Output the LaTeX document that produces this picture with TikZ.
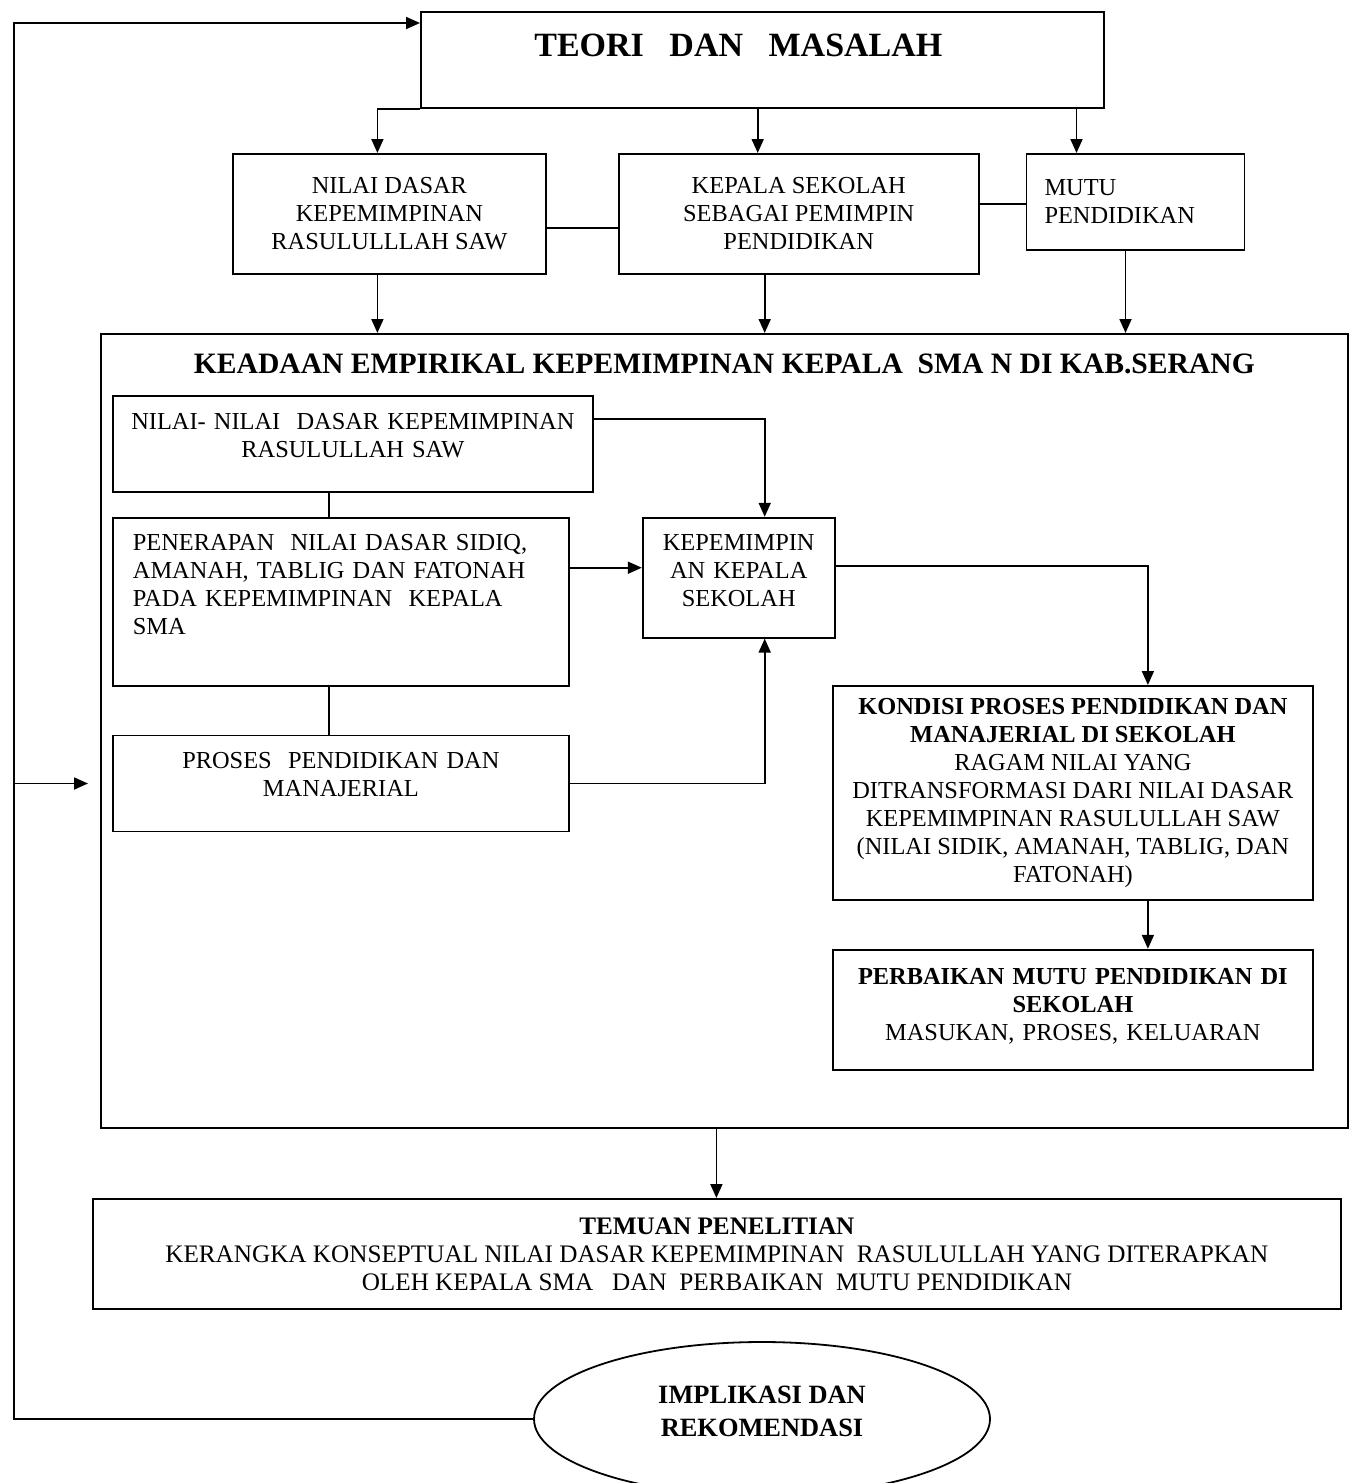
\documentclass[tikz,border=0pt]{standalone}
\usepackage{fontspec}
\setmainfont{Liberation Serif}
\usetikzlibrary{arrows.meta, positioning, shapes.geometric}

\begin{document}
\begin{tikzpicture}[x=0.5pt, y=-0.5pt,
            kotak/.style={rectangle, draw=black, line width=0.9pt, inner sep=2pt, font=\fontsize{12.2}{14}\selectfont},
            judul/.style={font=\fontsize{14.8}{17}\selectfont\bfseries},
            panah/.style={-{Triangle[length=7pt, width=6pt]}, line width=0.9pt},
            garis/.style={line width=0.9pt},
            ]
            \useasboundingbox (0,0) rectangle (1353,1483);

            %Nodes
            \node[kotak, anchor=north west, minimum width=341.5pt, minimum height=48pt, font=\fontsize{17}{20}\selectfont\bfseries, text depth=14.5pt] (teori) at (420,11) {TEORI\ \ \ DAN\ \ \ MASALAH\kern24pt};
            \node[kotak, anchor=north west, minimum width=156.5pt, minimum height=60pt, align=center] (nilai) at (232,153) {NILAI DASAR\\ KEPEMIMPINAN\\ RASULULLLAH SAW};
            \node[kotak, minimum width=180pt, minimum height=60pt, align=center, right=35.5pt of nilai.north east, anchor=north west] (kepala) {KEPALA SEKOLAH\\ SEBAGAI PEMIMPIN\\ PENDIDIKAN};
            \node[kotak, minimum width=109pt, minimum height=48pt, text width=91pt, align=left, right=23pt of kepala.north east, anchor=north west] (mutu) {MUTU\\ PENDIDIKAN};

            \node[kotak, judul, anchor=north west, minimum width=623.5pt, minimum height=397pt, text depth=367pt] (empirik) at (100,333) {KEADAAN EMPIRIKAL KEPEMIMPINAN KEPALA\ \ SMA N DI KAB.SERANG};

            \node[kotak, anchor=north west, minimum width=240pt, minimum height=48pt, text width=236pt, align=center, text depth=22.8pt] (nilaiA) at (112,395) {NILAI-\ NILAI\ \ DASAR KEPEMIMPINAN\\ RASULULLAH SAW};
            \node[kotak, minimum width=228pt, minimum height=84pt, text width=208pt, align=left, text depth=58.8pt, below=12pt of nilaiA.south west, anchor=north west] (penerapan) {PENERAPAN\ \ NILAI DASAR SIDIQ,\\ AMANAH, TABLIG DAN FATONAH\\ PADA KEPEMIMPINAN\ \ KEPALA\\ SMA};
            \node[kotak, minimum width=228pt, minimum height=48pt, text width=224pt, align=center, text depth=22.8pt, below=24pt of penerapan.south west, anchor=north west] (proses) {PROSES\ \ PENDIDIKAN DAN\\ MANAJERIAL};
            \node[kotak, minimum width=96pt, minimum height=60pt, text width=92pt, align=center, text depth=34.8pt, right=36pt of penerapan.north east, anchor=north west] (kpm) {KEPEMIMPIN\\ AN KEPALA\\ SEKOLAH};

            \node[kotak, anchor=north west, minimum width=240pt, minimum height=107pt, align=center] (kondisi) at (832,685) {\textbf{KONDISI PROSES PENDIDIKAN DAN}\\ \textbf{MANAJERIAL DI SEKOLAH}\\ RAGAM NILAI YANG\\ DITRANSFORMASI DARI NILAI DASAR\\ KEPEMIMPINAN RASULULLAH SAW\\ (NILAI SIDIK, AMANAH, TABLIG, DAN\\ FATONAH)};
            \node[kotak, minimum width=240pt, minimum height=60pt, text width=236pt, align=center, text depth=33pt, below=24pt of kondisi.south west, anchor=north west] (perbaikan) {\textbf{PERBAIKAN MUTU PENDIDIKAN DI}\\ \textbf{SEKOLAH}\\ MASUKAN, PROSES, KELUARAN};

            \node[kotak, anchor=north west, minimum width=624pt, minimum height=55pt, align=center, font=\fontsize{12.6}{14}\selectfont] (temuan) at (92,1198) {\textbf{TEMUAN PENELITIAN}\\ KERANGKA KONSEPTUAL NILAI DASAR KEPEMIMPINAN\ \ RASULULLAH YANG DITERAPKAN\\ OLEH KEPALA SMA\ \ \ DAN\ \ PERBAIKAN\ \ MUTU PENDIDIKAN};
            \node[ellipse, draw=black, line width=0.9pt, minimum width=228pt, minimum height=77pt, inner sep=0pt, align=center, font=\fontsize{13.2}{16.5}\selectfont\bfseries] (impl) at (762,1419) {IMPLIKASI DAN\\ REKOMENDASI\\[-8.5pt]};

            \coordinate (balik) at (14,23);

            %Lines
            \draw[panah] (teori.south west) -| ([xshift=-6pt]nilai.north);
            \draw[panah] ([xshift=-20.5pt]kepala.north |- teori.south) -- ([xshift=-20.5pt]kepala.north);
            \draw[panah] ([xshift=-29.5pt]mutu.north |- teori.south) -- ([xshift=-29.5pt]mutu.north);
            \draw[garis] ([yshift=-7pt]nilai.east) -- ([yshift=-7pt]nilai.east -| kepala.west);
            \draw[garis] ([yshift=5pt]kepala.east) -- ([yshift=5pt]kepala.east -| mutu.west);

            \draw[panah] ([xshift=-6pt]nilai.south) -- ([xshift=-6pt]nilai.south |- empirik.north);
            \draw[panah] ([xshift=-17pt]kepala.south) -- ([xshift=-17pt]kepala.south |- empirik.north);
            \draw[panah] ([xshift=-5pt]mutu.south) -- ([xshift=-5pt]mutu.south |- empirik.north);

            \draw[garis] ([xshift=-12pt]nilaiA.south) -- ([xshift=-12pt]nilaiA.south |- penerapan.north);
            \draw[garis] ([xshift=-6pt]penerapan.south) -- ([xshift=-6pt]penerapan.south |- proses.north);
            \draw[panah] ([yshift=12.5pt]nilaiA.east) -| ([xshift=13pt]kpm.north);
            \draw[panah] ([yshift=17pt]penerapan.east) -- ([yshift=17pt]penerapan.east -| kpm.west);
            \draw[panah] (proses.east) -| ([xshift=13pt]kpm.south);
            \draw[panah] ([yshift=6pt]kpm.east) -| ([xshift=37.5pt]kondisi.north);
            \draw[panah] ([xshift=37.5pt]kondisi.south) -- ([xshift=37.5pt]kondisi.south |- perbaikan.north);

            \draw[panah] ([xshift=-4pt]empirik.south) -- ([xshift=-4pt]empirik.south |- temuan.north);

            % balik ke teori
            \draw[panah] (impl.west) -| (balik) -- (balik -| teori.west);
            \draw[panah, shorten >=6pt] (balik |- proses.east) -- (empirik.west |- proses.east);
          \end{tikzpicture}
\end{document}
